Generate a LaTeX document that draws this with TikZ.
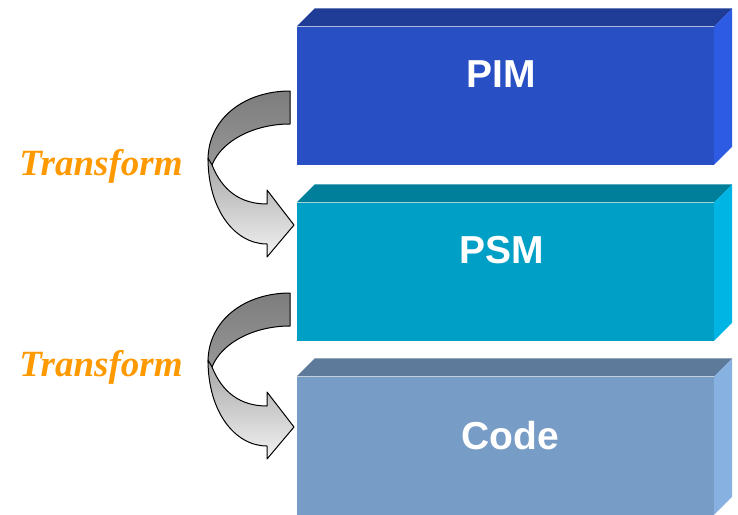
\documentclass[tikz,border=0pt]{standalone}
\usepackage{fontspec}
\setmainfont{Liberation Serif}
\newfontfamily\labelfont{Liberation Sans}
\usetikzlibrary{calc}

\definecolor{pimfront}{RGB}{40,80,196}
\definecolor{pimtop}{RGB}{31,60,150}
\definecolor{pimside}{RGB}{45,91,227}
\definecolor{psmfront}{RGB}{0,159,198}
\definecolor{psmtop}{RGB}{0,127,155}
\definecolor{psmside}{RGB}{0,180,228}
\definecolor{codefront}{RGB}{119,156,198}
\definecolor{codetop}{RGB}{94,122,154}
\definecolor{codeside}{RGB}{134,177,224}
\definecolor{xformorange}{RGB}{255,153,0}
\definecolor{banddark}{RGB}{125,125,125}
\definecolor{banddarklow}{RGB}{150,150,150}
\definecolor{bandlighttop}{RGB}{165,165,165}
\definecolor{bandlightlow}{RGB}{242,242,242}

\tikzset{
  modelbox/.style={rectangle, inner sep=0pt, minimum width=417pt, minimum height=138pt, draw=none},
  modellabel/.style={font=\labelfont\bfseries\fontsize{39}{39}\selectfont, text=white, anchor=base, inner sep=0pt},
  xformlabel/.style={font=\bfseries\itshape\fontsize{37}{37}\selectfont, text=xformorange, anchor=base, inner sep=0pt},
  bandback/.style={draw=black, line width=1pt, line join=round, top color=banddark, bottom color=banddarklow},
  bandfront/.style={draw=black, line width=1pt, line join=round, top color=bandlighttop, bottom color=bandlightlow},
}

% slab: front node name, colours of front, top and side faces
\newcommand{\slabfaces}[3]{%
  \fill[#2] (#1.north west) -- ++(18,-18) -- ($(#1.north east)+(18,-18)$) -- (#1.north east) -- cycle;
  \fill[#3] (#1.north east) -- ++(18,-18) -- ($(#1.south east)+(18,-18)$) -- (#1.south east) -- cycle;
}

% U-turn block arrow, drawn with its upper end at the origin of the current shift
\newcommand{\uturnarrow}{%
  \path[bandback] (290,91) .. controls (245,91) and (208,118) .. (208,160)
    -- (212,165) .. controls (222,140) and (255,124) .. (290,124) -- cycle;
  \path[bandfront] (208,158) .. controls (208,210) and (235,244) .. (267,244)
    -- (267,257) -- (294,225) -- (267,190) -- (267,204)
    .. controls (240,204) and (222,190) .. (212,165) -- cycle;
}

\begin{document}
\begin{tikzpicture}[x=1pt, y=-1pt]
  \useasboundingbox (0,0) rectangle (738,514);

  % front faces of the three slabs
  \node[modelbox, fill=pimfront]  (pim)  at (505.5,95.5)  {};
  \node[modelbox, fill=psmfront]  (psm)  at (505.5,271.5) {};
  \node[modelbox, fill=codefront] (code) at (505.5,445.5) {};

  \slabfaces{pim}{pimtop}{pimside}
  \slabfaces{psm}{psmtop}{psmside}
  \slabfaces{code}{codetop}{codeside}

  \node[modellabel] (pimtext)  at (501,87)  {PIM};
  \node[modellabel] (psmtext)  at (502,263) {PSM};
  \node[modellabel] (codetext) at (510,449) {Code};

  % transformation arrows between the slabs
  \uturnarrow
  \begin{scope}[shift={(0,202)}]
    \uturnarrow
  \end{scope}

  \node[xformlabel] (xform1) at (101,175) {Transform};
  \node[xformlabel] (xform2) at (101,376) {Transform};
\end{tikzpicture}
\end{document}
